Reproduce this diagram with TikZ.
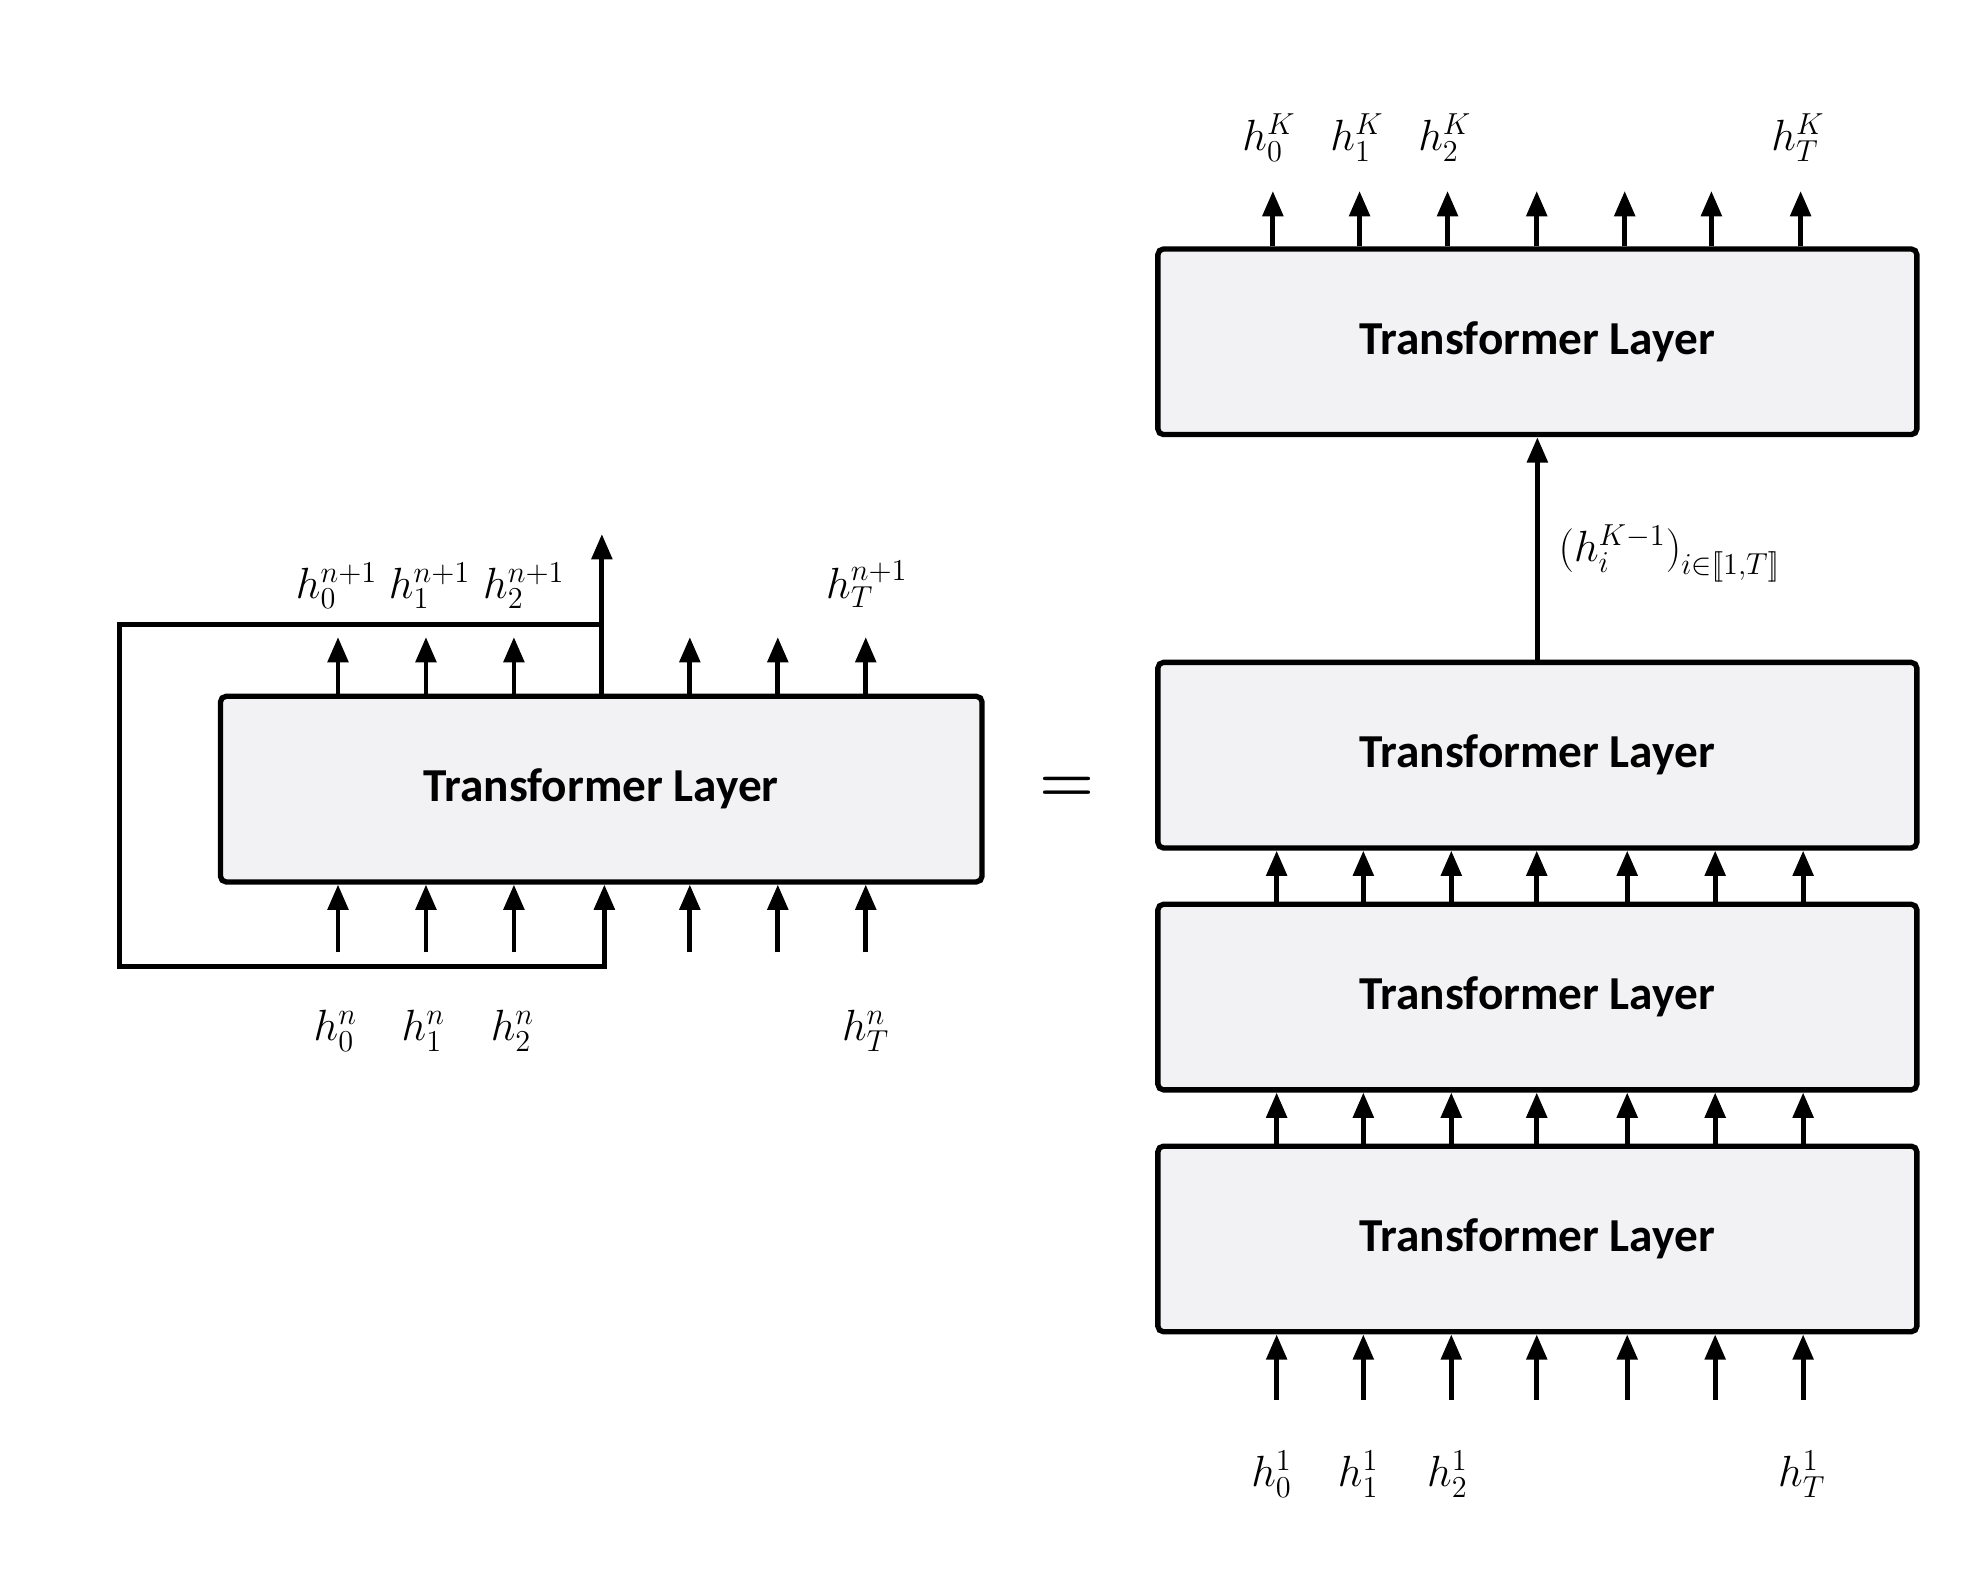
\documentclass[tikz,border=0pt]{standalone}
\usepackage{fontspec}
\newfontfamily\tlfont{Carlito}
\usetikzlibrary{arrows.meta,calc}
\definecolor{boxfill}{RGB}{242,242,244}
\tikzset{
  layer/.style={draw, line width=2.1pt, fill=boxfill, rounded corners=2.2pt,
    minimum width=300.2pt, minimum height=73.4pt, inner sep=0pt,
    font=\tlfont\bfseries\fontsize{18.7}{22}\selectfont},
  arr/.style={line width=1.9pt, -{Triangle[width=8pt,length=10pt]}},
  lab/.style={font=\fontsize{17.5}{20}\selectfont, inner sep=0pt, anchor=base},
  eqsign/.style={font=\fontsize{27}{30}\selectfont\boldmath, inner sep=0pt}
}
\begin{document}
\begin{tikzpicture}[x=0.497pt,y=-0.497pt]
\useasboundingbox (0,0) rectangle (1569.4,1265.4);

% left block
\node[layer, minimum width=301.2pt] (L) at (478.5,628) {Transformer Layer};
\foreach \x [count=\i] in {269,339,409,549,619,689} {
  \coordinate (lx\i) at (\x,0);
  \coordinate (lt\i) at (\x,507);
  \coordinate (lb\i) at (\x,758);
  \draw[arr] (L.north -| lx\i) -- (lt\i);
  \draw[arr] (lb\i) -- (L.south -| lx\i);
}
% feedback loop
\coordinate (fbx) at (479,0);
\coordinate (fbtip) at (479,425);
\coordinate (fbj) at (479,497);
\coordinate (fbl) at (95,497);
\coordinate (fbb) at (95,769);
\coordinate (fbr) at (481,769);
\coordinate (fbx2) at (481,0);
\draw[arr] (L.north -| fbx) -- (fbtip);
\draw[arr] (fbj) -- (fbl) -- (fbb) -- (fbr) -- (L.south -| fbx2);

% left labels
\node[lab] (lo0) at (268,476) {$h_0^{n+1}$};
\node[lab] (lo1) at (342,476) {$h_1^{n+1}$};
\node[lab] (lo2) at (417,476) {$h_2^{n+1}$};
\node[lab] (loT) at (690,476) {$h_T^{n+1}$};
\node[lab] (li0) at (267,828) {$h_0^{n}$};
\node[lab] (li1) at (337,828) {$h_1^{n}$};
\node[lab] (li2) at (408,828) {$h_2^{n}$};
\node[lab] (liT) at (689,828) {$h_T^{n}$};

% equals
\node[eqsign] (eq) at (849,628) {$=$};

% right stack
\node[layer] (R1) at (1223.5,272) {Transformer Layer};
\node[layer] (R2) at (1223.5,601) {Transformer Layer};
\node[layer] (R3) at (1223.5,793.5) {Transformer Layer};
\node[layer] (R4) at (1223.5,986) {Transformer Layer};

\foreach \x [count=\i] in {1013,1082,1152,1223,1293,1362,1433} {
  \coordinate (rx\i) at (\x,0);
  \coordinate (rt\i) at (\x,152);
  \draw[arr] (R1.north -| rx\i) -- (rt\i);
}
\foreach \x [count=\i] in {1016,1085,1155,1223,1295,1365,1435} {
  \coordinate (sx\i) at (\x,0);
  \coordinate (sb\i) at (\x,1114);
  \draw[arr] (R3.north -| sx\i) -- (R2.south -| sx\i);
  \draw[arr] (R4.north -| sx\i) -- (R3.south -| sx\i);
  \draw[arr] (sb\i) -- (R4.south -| sx\i);
}
\draw[arr] (R2.north) -- (R1.south);

\node[lab, anchor=base west] (mid) at (1240,447)
  {$\bigl(h_i^{K-1}\bigr)_{i\in\mathopen{[\mkern-3mu[}1,T\mathclose{]\mkern-3mu]}}$};

\node[lab] (ro0) at (1010,120) {$h_0^{K}$};
\node[lab] (ro1) at (1080,120) {$h_1^{K}$};
\node[lab] (ro2) at (1150,120) {$h_2^{K}$};
\node[lab] (roT) at (1431,120) {$h_T^{K}$};
\node[lab] (ri0) at (1012,1183) {$h_0^{1}$};
\node[lab] (ri1) at (1081,1183) {$h_1^{1}$};
\node[lab] (ri2) at (1152,1183) {$h_2^{1}$};
\node[lab] (riT) at (1434,1183) {$h_T^{1}$};
\end{tikzpicture}
\end{document}
